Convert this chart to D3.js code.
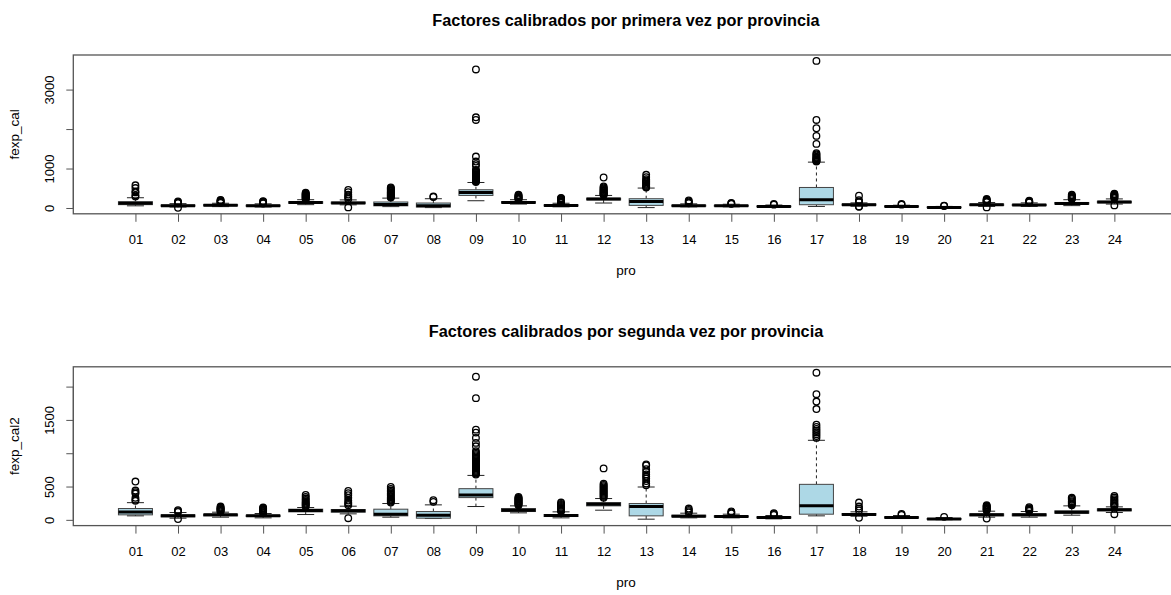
<!DOCTYPE html>
<html>
<head>
<meta charset="utf-8">
<script src="https://cdn.jsdelivr.net/npm/d3@7"></script>
<style>
  body { margin: 0; background: #fff; }
  svg text { font-family: "Liberation Sans", Arial, sans-serif; fill: #000; }
</style>
</head>
<body>
<div id="chart"></div>
<script>
const provincias = ["01","02","03","04","05","06","07","08","09","10","11","12",
                    "13","14","15","16","17","18","19","20","21","22","23","24"];

// fexp_cal: primera calibración
const cal1Lo  = [55, 25, 35, 25, 85, 80, 35, 10, 184, 100, 30, 126, 10, 30, 30, 15, 40, 45, 20, 2, 40, 40, 60, 100];
const cal1Q1  = [85, 45, 55, 45, 120, 110, 55, 25, 318, 125, 50, 205, 66, 45, 45, 30, 83, 70, 30, 8, 65, 62, 100, 130];
const cal1Med = [120, 58, 68, 58, 141, 126, 91, 58, 394, 141, 66, 227, 167, 58, 55, 40, 210, 83, 40, 15, 83, 76, 116, 152];
const cal1Q3  = [160, 75, 85, 72, 160, 150, 152, 126, 462, 160, 80, 248, 235, 72, 68, 50, 520, 100, 50, 25, 100, 92, 140, 170];
const cal1Hi  = [260, 110, 120, 105, 210, 205, 250, 235, 646, 210, 120, 318, 505, 105, 95, 75, 1162, 130, 70, 40, 140, 130, 210, 230];
const cal1Out = [
  [290, 320, 395, 420, 505, 575],
  [5, 120, 135, 150, 165],
  [130, 145, 160, 175, 190, 205],
  [115, 130, 145, 160, 170],
  [220, 235, 250, 265, 280, 295, 310, 325, 340, 355, 370, 390],
  [15, 230, 270, 300, 340, 400, 460],
  [265, 280, 295, 310, 325, 340, 355, 370, 385, 400, 420, 440, 460, 480, 500, 520],
  [280, 290],
  [660, 675, 690, 705, 722, 738, 752, 768, 781, 797, 812, 828, 843, 862, 881, 903, 921, 944, 967, 1068, 1110, 1177, 1303, 2230, 2298, 3510],
  [220, 235, 250, 265, 280, 300, 320, 335],
  [130, 145, 160, 175, 190, 205, 220, 240, 252],
  [330, 342, 356, 370, 385, 400, 418, 436, 455, 475, 498, 520, 545, 773],
  [520, 540, 560, 590, 620, 650, 672, 700, 730, 783, 841],
  [120, 140, 165, 192],
  [105, 115, 126],
  [85, 101],
  [1175, 1188, 1202, 1218, 1236, 1255, 1278, 1300, 1330, 1360, 1389, 1624, 1826, 2020, 2230, 3727],
  [30, 40, 150, 167, 200, 311],
  [85, 101],
  [50, 58],
  [15, 150, 160, 170, 180, 195, 210, 227],
  [140, 150, 160, 170, 184],
  [225, 240, 255, 270, 285, 300, 320, 336],
  [66, 250, 265, 280, 295, 310, 330, 345, 361]
];

// fexp_cal2: segunda calibración
const cal2Lo  = [60, 25, 40, 30, 80, 90, 40, 20, 200, 105, 30, 145, 10, 30, 30, 15, 60, 55, 20, 2, 40, 40, 70, 110];
const cal2Q1  = [75, 45, 60, 50, 120, 115, 60, 25, 334, 125, 50, 210, 60, 45, 42, 28, 85, 70, 28, 8, 60, 60, 100, 135];
const cal2Med = [118, 60, 75, 60, 140, 135, 85, 70, 373, 145, 65, 235, 200, 55, 50, 35, 210, 80, 35, 12, 75, 75, 115, 150];
const cal2Q3  = [170, 75, 85, 70, 160, 155, 160, 125, 468, 170, 80, 260, 245, 70, 60, 45, 533, 95, 45, 20, 90, 90, 135, 165];
const cal2Hi  = [258, 110, 115, 95, 185, 205, 245, 225, 667, 210, 120, 320, 493, 100, 85, 65, 1194, 120, 65, 35, 130, 125, 210, 195];
const cal2Out = [
  [285, 300, 330, 395, 415, 440, 575],
  [12, 120, 130, 145],
  [125, 135, 145, 155, 165, 175, 185, 200],
  [105, 115, 125, 135, 145, 155, 165, 175, 185],
  [200, 215, 230, 245, 260, 280, 300, 320, 345, 373],
  [25, 220, 240, 260, 290, 330, 370, 400, 433],
  [260, 275, 290, 305, 320, 340, 360, 380, 400, 420, 440, 465, 493],
  [270, 295],
  [680, 694, 708, 723, 737, 752, 768, 783, 797, 812, 828, 845, 861, 878, 896, 914, 933, 952, 971, 990, 1010, 1030, 1104, 1155, 1230, 1310, 1354, 1827, 2149],
  [220, 230, 240, 250, 260, 270, 280, 290, 300, 310, 320, 330, 343],
  [130, 140, 150, 160, 170, 180, 195, 210, 225, 240, 260],
  [330, 345, 360, 375, 390, 405, 420, 436, 452, 470, 488, 505, 524, 543, 772],
  [518, 545, 582, 620, 650, 682, 720, 760, 816, 831],
  [110, 130, 150, 170],
  [95, 110, 125],
  [75, 90, 100],
  [1230, 1258, 1285, 1312, 1338, 1365, 1395, 1428, 1663, 1776, 1887, 2209],
  [30, 140, 170, 200, 260],
  [75, 90],
  [45],
  [20, 140, 150, 160, 170, 180, 190, 200, 210, 220],
  [135, 145, 155, 165, 175, 190],
  [220, 235, 250, 265, 280, 300, 320, 334],
  [85, 205, 220, 235, 250, 270, 290, 310, 335, 358]
];

const ticks1 = [0, 1000, 2000, 3000];
const tickLabels1 = ["0", "1000", "", "3000"];
const ticks2 = [0, 500, 1000, 1500, 2000];
const tickLabels2 = ["0", "500", "", "1500", ""];

const width = 1171, height = 595;

const svg = d3.select("#chart").append("svg")
    .attr("width", width)
    .attr("height", height);

function drawPanel(opts) {
    const plot = { left: 73.3, right: 1176.5, top: opts.top, bottom: opts.top + 158.8 };

    const stats = provincias.map((p, i) => ({
        pro: p,
        idx: i + 1,
        lo: opts.lo[i], q1: opts.q1[i], med: opts.med[i], q3: opts.q3[i], hi: opts.hi[i],
        out: opts.out[i]
    }));

    // rango como en R: datos extendidos un 4%
    const allVals = stats.flatMap(d => [d.lo, d.hi, ...d.out]);
    const vMin = d3.min(allVals), vMax = d3.max(allVals);
    const ext = (vMax - vMin) * 0.04;

    const xScale = d3.scaleLinear().domain([0.5 - 0.96, 24.5 + 0.96]).range([plot.left, plot.right]);
    const yScale = d3.scaleLinear().domain([vMin - ext, vMax + ext]).range([plot.bottom, plot.top]);

    const g = svg.append("g");

    // título
    g.append("text")
        .attr("x", 626)
        .attr("y", opts.titleY)
        .attr("text-anchor", "middle")
        .style("font-size", "16.3px")
        .style("font-weight", "bold")
        .text(opts.title);

    // eje x
    const xAxis = g.append("g")
        .attr("transform", `translate(0,${plot.bottom})`)
        .call(d3.axisBottom(xScale)
            .tickValues(stats.map(d => d.idx))
            .tickFormat(i => provincias[i - 1])
            .tickSize(8)
            .tickSizeOuter(0)
            .tickPadding(13));
    xAxis.select(".domain").remove();
    xAxis.selectAll("line").attr("stroke", "#555");
    xAxis.selectAll("text")
        .style("font-size", "13px")
        .style("font-family", "'Liberation Sans', Arial, sans-serif");

    // eje y
    const yAxis = g.append("g")
        .attr("transform", `translate(${plot.left},0)`)
        .call(d3.axisLeft(yScale)
            .tickValues(opts.ticks)
            .tickFormat((d, i) => opts.tickLabels[i])
            .tickSize(7)
            .tickSizeOuter(0));
    yAxis.select(".domain")
        .attr("d", `M0,${yScale(opts.ticks[0])}V${yScale(opts.ticks[opts.ticks.length - 1])}`)
        .attr("stroke", "#555");
    yAxis.selectAll("line").attr("stroke", "#555");
    yAxis.selectAll("text")
        .attr("x", null)
        .attr("dy", null)
        .attr("text-anchor", "middle")
        .attr("transform", "translate(-19,0) rotate(-90)")
        .style("font-size", "13px")
        .style("font-family", "'Liberation Sans', Arial, sans-serif");

    // marco
    g.append("rect")
        .attr("x", plot.left)
        .attr("y", plot.top)
        .attr("width", plot.right - plot.left)
        .attr("height", plot.bottom - plot.top)
        .attr("fill", "none")
        .attr("stroke", "#555")
        .attr("stroke-width", 1.3);

    // etiquetas de ejes
    g.append("text")
        .attr("x", 626)
        .attr("y", plot.bottom + 61)
        .attr("text-anchor", "middle")
        .style("font-size", "13.5px")
        .text("pro");

    g.append("text")
        .attr("transform", `translate(19,${(plot.top + plot.bottom) / 2}) rotate(-90)`)
        .attr("text-anchor", "middle")
        .style("font-size", "13.5px")
        .text(opts.ylabel);

    const boxHalf = 17, capHalf = 8.5;

    const boxes = g.selectAll(".box")
        .data(stats)
        .enter().append("g")
        .attr("class", "box");

    // bigotes (discontinuos)
    boxes.append("line")
        .attr("x1", d => xScale(d.idx)).attr("x2", d => xScale(d.idx))
        .attr("y1", d => yScale(d.q3)).attr("y2", d => yScale(d.hi))
        .attr("stroke", "#222").attr("stroke-dasharray", "3,3");
    boxes.append("line")
        .attr("x1", d => xScale(d.idx)).attr("x2", d => xScale(d.idx))
        .attr("y1", d => yScale(d.q1)).attr("y2", d => yScale(d.lo))
        .attr("stroke", "#222").attr("stroke-dasharray", "3,3");

    // topes
    boxes.append("line")
        .attr("x1", d => xScale(d.idx) - capHalf).attr("x2", d => xScale(d.idx) + capHalf)
        .attr("y1", d => yScale(d.hi)).attr("y2", d => yScale(d.hi))
        .attr("stroke", "#222");
    boxes.append("line")
        .attr("x1", d => xScale(d.idx) - capHalf).attr("x2", d => xScale(d.idx) + capHalf)
        .attr("y1", d => yScale(d.lo)).attr("y2", d => yScale(d.lo))
        .attr("stroke", "#222");

    // cajas
    boxes.append("rect")
        .attr("x", d => xScale(d.idx) - boxHalf)
        .attr("y", d => yScale(d.q3))
        .attr("width", boxHalf * 2)
        .attr("height", d => yScale(d.q1) - yScale(d.q3))
        .attr("fill", "#ADD8E6")
        .attr("stroke", "#444")
        .attr("stroke-width", 1);

    // medianas
    boxes.append("line")
        .attr("x1", d => xScale(d.idx) - boxHalf).attr("x2", d => xScale(d.idx) + boxHalf)
        .attr("y1", d => yScale(d.med)).attr("y2", d => yScale(d.med))
        .attr("stroke", "#000")
        .attr("stroke-width", 3);

    // atípicos
    boxes.selectAll(".outlier")
        .data(d => d.out.map(v => ({ idx: d.idx, v: v })))
        .enter().append("circle")
        .attr("class", "outlier")
        .attr("cx", d => xScale(d.idx))
        .attr("cy", d => yScale(d.v))
        .attr("r", 3.3)
        .attr("fill", "none")
        .attr("stroke", "#000")
        .attr("stroke-width", 1.3);
}

drawPanel({
    top: 55, titleY: 26,
    title: "Factores calibrados por primera vez por provincia",
    ylabel: "fexp_cal",
    lo: cal1Lo, q1: cal1Q1, med: cal1Med, q3: cal1Q3, hi: cal1Hi, out: cal1Out,
    ticks: ticks1, tickLabels: tickLabels1
});

drawPanel({
    top: 366.8, titleY: 337,
    title: "Factores calibrados por segunda vez por provincia",
    ylabel: "fexp_cal2",
    lo: cal2Lo, q1: cal2Q1, med: cal2Med, q3: cal2Q3, hi: cal2Hi, out: cal2Out,
    ticks: ticks2, tickLabels: tickLabels2
});
</script>
</body>
</html>
